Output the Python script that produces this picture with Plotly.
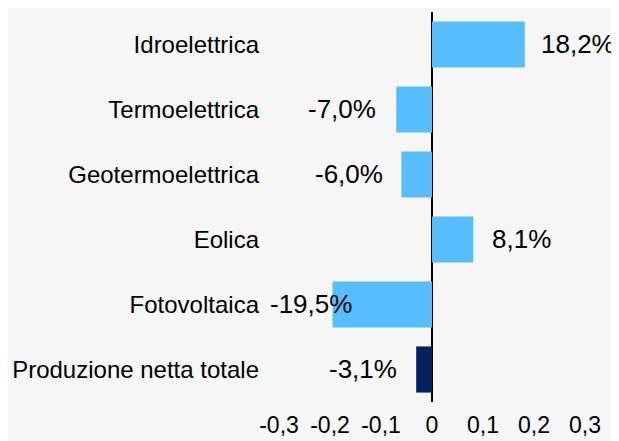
import plotly.graph_objects as go

categories = ["Idroelettrica", "Termoelettrica", "Geotermoelettrica", "Eolica",
              "Fotovoltaica", "Produzione netta totale"]
values = [0.182, -0.070, -0.060, 0.081, -0.195, -0.031]
value_labels = ["18,2%", "-7,0%", "-6,0%", "8,1%", "-19,5%", "-3,1%"]
tick_values = [-0.3, -0.2, -0.1, 0, 0.1, 0.2, 0.3]
tick_labels = ["-0,3", "-0,2", "-0,1", "0", "0,1", "0,2", "0,3"]

light_blue = "#57BEFD"
navy = "#002060"
colors = [light_blue] * 5 + [navy]

# label placement style (pixel shifts from bar end)
label_shift = [14, -18, -16, 17, 21, -17]

FONT = "Liberation Sans, Arial, sans-serif"

fig = go.Figure(go.Bar(
    x=values, y=categories, orientation="h",
    marker=dict(color=colors, line=dict(width=0)),
    hoverinfo="skip",
))

for cat, v, lab, s in zip(categories, values, value_labels, label_shift):
    fig.add_annotation(
        x=v, y=cat, text=lab, showarrow=False,
        xanchor="left" if v >= 0 else "right",
        xshift=s, yshift=1, yanchor="middle",
        font=dict(family=FONT, size=26, color="#000000"),
    )

# page body has an 8px margin, so the figure is sized to fit the window
fig.update_layout(
    width=611, height=433,
    margin=dict(l=271, r=34, t=4, b=39, autoexpand=False),
    paper_bgcolor="#f6f6f6", plot_bgcolor="rgba(0,0,0,0)",
    bargap=0.29, showlegend=False,
    font=dict(family=FONT, color="#000000"),
)
fig.update_xaxes(
    range=[-0.3, 0.3], tickvals=tick_values, ticktext=tick_labels,
    showgrid=False, zeroline=True, zerolinecolor="#000000", zerolinewidth=2,
    showline=False, ticks="", tickfont=dict(size=23, family=FONT),
    ticklabelstandoff=7,
)
fig.update_yaxes(
    autorange="reversed", showgrid=False, showline=False, ticks="",
    tickfont=dict(size=24, family=FONT), ticklabelstandoff=19,
)

fig.write_html("out.html")
